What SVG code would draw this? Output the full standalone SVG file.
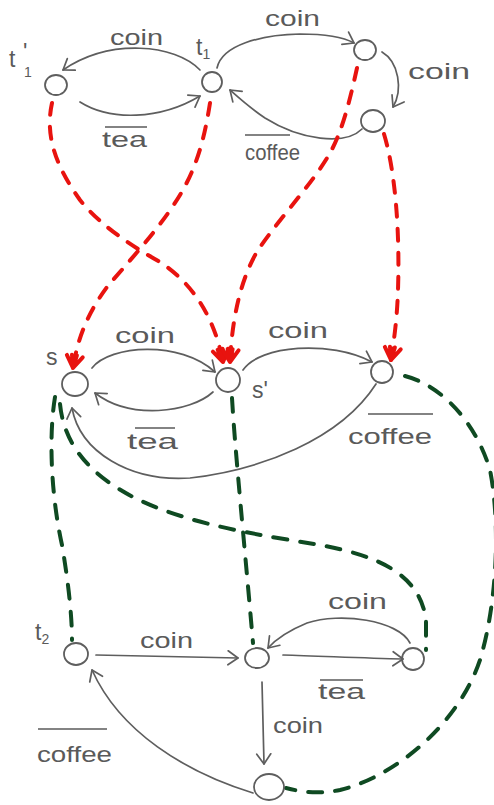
<svg xmlns="http://www.w3.org/2000/svg" width="494" height="805" viewBox="0 0 494 805">
  <style>
    .st { fill: none; stroke: #5e5e5e; stroke-width: 1.8; }
    .edge { fill: none; stroke: #5e5e5e; stroke-width: 1.7; stroke-linecap: round; marker-end: url(#open); }
    .red { fill: none; stroke: #e8130f; stroke-width: 4; stroke-linecap: round; stroke-dasharray: 12 12; marker-end: url(#fan); }
    .green { fill: none; stroke: #0f4a22; stroke-width: 4; stroke-linecap: round; stroke-dasharray: 14 13; }
    .lbl { font-family: "Liberation Sans", "DejaVu Sans", sans-serif; font-size: 22px; fill: #5a5a5a; }
    .name { font-family: "Liberation Sans", "DejaVu Sans", sans-serif; font-size: 23px; fill: #5a5a5a; }
    .sub { font-size: 14px; }
    .bar { stroke: #5a5a5a; stroke-width: 1.6; }
  </style>
  <defs>
    <marker id="open" markerUnits="userSpaceOnUse" markerWidth="24" markerHeight="24" viewBox="-12 -12 24 24" refX="0" refY="0" orient="auto" overflow="visible">
      <path d="M-10,-7 L0,0 L-10,7" fill="none" stroke="#5e5e5e" stroke-width="1.7" stroke-linecap="round" stroke-linejoin="round"/>
    </marker>
    <marker id="fan" markerUnits="userSpaceOnUse" markerWidth="30" markerHeight="30" viewBox="-15 -15 30 30" refX="0" refY="0" orient="auto" overflow="visible">
      <path d="M-12,-8 L0,0 M-13,-2 L0,0 M-13,3 L0,0 M-12,8 L0,0" fill="none" stroke="#e8130f" stroke-width="4" stroke-linecap="round"/>
    </marker>
  </defs>

  <rect width="494" height="805" fill="#ffffff"/>

  <!-- connectors: transitions, bisimulation links and their labels -->
  <g id="connectors">
    <!-- top system -->
    <path class="edge" d="M200,70 C175,44 110,38 63,70"/>
    <text class="lbl" x="110" y="45" textLength="53" lengthAdjust="spacingAndGlyphs">coin</text>
    <path class="edge" d="M80,102 C110,121 160,120 200,96"/>
    <line class="bar" x1="105" y1="127" x2="147" y2="127"/>
    <text class="lbl" x="102" y="147" textLength="45" lengthAdjust="spacingAndGlyphs">tea</text>
    <path class="edge" d="M217,68 C222,45 260,35 300,34 C328,34 343,37 354,43"/>
    <text class="lbl" x="265" y="26" textLength="55" lengthAdjust="spacingAndGlyphs">coin</text>
    <path class="edge" d="M382,52 C399,62 403,90 393,107"/>
    <text class="lbl" x="408" y="79" textLength="62" lengthAdjust="spacingAndGlyphs">coin</text>
    <path class="edge" d="M362,129 C345,146 300,140 265,118 C250,108 239,98 230,90"/>
    <line class="bar" x1="245" y1="135" x2="290" y2="135"/>
    <text class="lbl" x="245" y="160" textLength="55" lengthAdjust="spacingAndGlyphs">coffee</text>

    <!-- middle system -->
    <path class="edge" d="M92,368 C110,345 180,340 215,372"/>
    <text class="lbl" x="115" y="343" textLength="60" lengthAdjust="spacingAndGlyphs">coin</text>
    <path class="edge" d="M213,392 C190,413 130,420 95,393"/>
    <line class="bar" x1="135" y1="428" x2="175" y2="428"/>
    <text class="lbl" x="127" y="449" textLength="51" lengthAdjust="spacingAndGlyphs">tea</text>
    <path class="edge" d="M243,370 C260,345 330,340 372,362"/>
    <text class="lbl" x="268" y="338" textLength="60" lengthAdjust="spacingAndGlyphs">coin</text>
    <path class="edge" d="M376,384 C340,440 260,470 190,478 C130,482 80,452 72,408"/>
    <line class="bar" x1="368" y1="414" x2="433" y2="414"/>
    <text class="lbl" x="348" y="444" textLength="84" lengthAdjust="spacingAndGlyphs">coffee</text>

    <!-- bottom system -->
    <path class="edge" d="M96,655 L238,658"/>
    <text class="lbl" x="140" y="648" textLength="53" lengthAdjust="spacingAndGlyphs">coin</text>
    <path class="edge" d="M410,643 C398,620 340,612 307,623 C290,630 277,638 268,648"/>
    <text class="lbl" x="328" y="609" textLength="59" lengthAdjust="spacingAndGlyphs">coin</text>
    <path class="edge" d="M283,655 C320,656 360,658 403,659"/>
    <line class="bar" x1="320" y1="680" x2="363" y2="680"/>
    <text class="lbl" x="318" y="699" textLength="47" lengthAdjust="spacingAndGlyphs">tea</text>
    <path class="edge" d="M262,682 L264,764"/>
    <text class="lbl" x="273" y="733" textLength="50" lengthAdjust="spacingAndGlyphs">coin</text>
    <path class="edge" d="M253,793 C185,772 120,732 92,670"/>
    <line class="bar" x1="38" y1="729" x2="107" y2="729"/>
    <text class="lbl" x="37" y="762" textLength="75" lengthAdjust="spacingAndGlyphs">coffee</text>

    <!-- red links between top and middle -->
    <path class="red" d="M52,103 C45,135 55,165 80,200 C100,225 130,245 160,262 C195,285 215,320 223,362"/>
    <path class="red" d="M210,103 C205,135 198,165 180,195 C160,228 130,260 107,287 C90,310 78,335 73,368"/>
    <path class="red" d="M357,68 C350,100 342,132 330,153 C313,183 282,215 258,250 C240,280 232,320 230,362"/>
    <path class="red" d="M384,134 C395,170 400,230 398,290 C397,320 394,340 391,360"/>

    <!-- green links between middle and bottom -->
    <path class="green" d="M55,397 C48,440 52,500 62,545 C68,580 72,615 72,640"/>
    <path class="green" d="M60,404 C64,445 90,475 135,498 C190,525 260,535 320,545 C380,556 420,575 426,620 L426,650"/>
    <path class="green" d="M232,398 C235,450 245,550 253,643"/>
    <path class="green" d="M405,376 C440,385 475,420 490,470 C500,520 498,600 480,660 C460,720 400,775 340,790 C315,795 298,791 286,788"/>
  </g>

  <!-- top system states -->
  <g id="t1p">
    <ellipse class="st" cx="56" cy="85" rx="11" ry="10"/>
    <text class="name" x="9" y="67">t</text>
    <text class="name" x="23" y="60" font-size="22">'</text>
    <text class="name sub" x="24" y="77">1</text>
  </g>
  <g id="t1">
    <ellipse class="st" cx="212" cy="82" rx="10" ry="10"/>
    <text class="name" x="196" y="55">t<tspan class="sub" dy="4">1</tspan></text>
  </g>
  <g id="a1">
    <ellipse class="st" cx="365" cy="50" rx="11" ry="10"/>
  </g>
  <g id="a2">
    <ellipse class="st" cx="373" cy="121" rx="12" ry="11"/>
  </g>

  <!-- middle system states -->
  <g id="s">
    <ellipse class="st" cx="75" cy="384" rx="13" ry="12"/>
    <text class="name" x="46" y="365">s</text>
  </g>
  <g id="sp">
    <ellipse class="st" cx="228" cy="380" rx="12" ry="12"/>
    <text class="name" x="252" y="398">s'</text>
  </g>
  <g id="s2">
    <ellipse class="st" cx="382" cy="372" rx="11" ry="11"/>
  </g>

  <!-- bottom system states -->
  <g id="t2">
    <ellipse class="st" cx="76" cy="654" rx="12" ry="11"/>
    <text class="name" x="35" y="640">t<tspan class="sub" dy="4">2</tspan></text>
  </g>
  <g id="b1">
    <ellipse class="st" cx="257" cy="658" rx="12" ry="10"/>
  </g>
  <g id="b2">
    <ellipse class="st" cx="413" cy="659" rx="11" ry="11"/>
  </g>
  <g id="b3">
    <ellipse class="st" cx="269" cy="787" rx="15" ry="13"/>
  </g>
</svg>
